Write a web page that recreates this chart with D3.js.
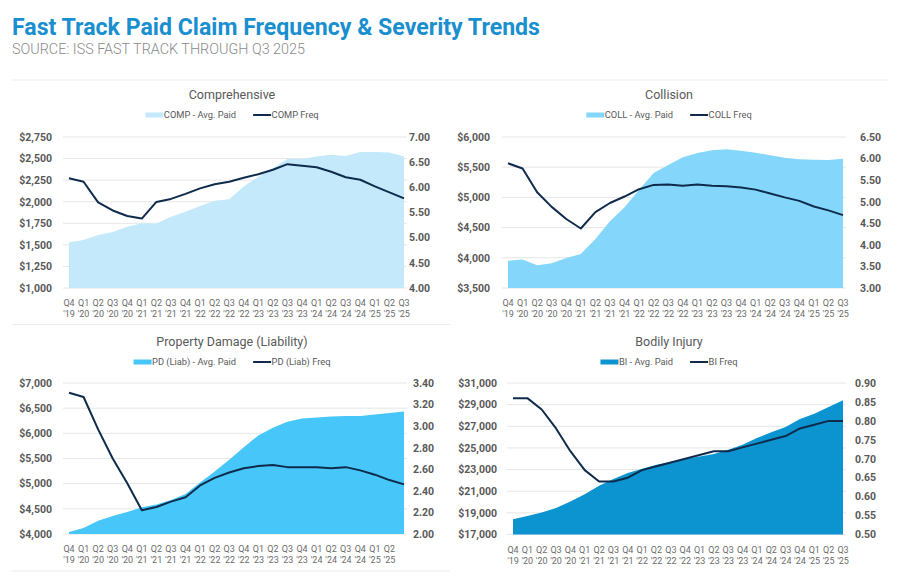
<!DOCTYPE html>
<html>
<head>
<meta charset="utf-8">
<script src="https://cdn.jsdelivr.net/npm/d3@7"></script>
<style>
  body { margin: 0; background: #fff; }
  svg { font-family: Roboto, "Noto Sans", sans-serif; }
</style>
</head>
<body>
<svg id="chart" width="905" height="581"></svg>
<script>
// quarter labels (PD chart leaves the last one blank)
var QUARTERS = ["Q4 '19","Q1 '20","Q2 '20","Q3 '20","Q4 '20","Q1 '21","Q2 '21","Q3 '21","Q4 '21",
    "Q1 '22","Q2 '22","Q3 '22","Q4 '22","Q1 '23","Q2 '23","Q3 '23","Q4 '23",
    "Q1 '24","Q2 '24","Q3 '24","Q4 '24","Q1 '25","Q2 '25","Q3 '25"];
var PD_QUARTERS = QUARTERS.slice(0, 23).concat([""]);

var COMP_PAID = [1530,1555,1613,1650,1710,1750,1748,1825,1885,1950,2010,2030,2175,2290,2390,2495,2495,2525,2545,2530,2575,2575,2570,2525];
var COMP_FREQ = [6.18,6.11,5.70,5.54,5.43,5.38,5.71,5.77,5.87,5.98,6.06,6.11,6.19,6.26,6.35,6.46,6.43,6.40,6.31,6.20,6.15,6.02,5.90,5.78];

var COLL_PAID = [3950,3970,3875,3908,3997,4063,4311,4604,4836,5128,5404,5536,5663,5735,5779,5796,5774,5741,5696,5658,5630,5625,5619,5641];
var COLL_FREQ = [5.89,5.77,5.22,4.88,4.60,4.38,4.76,4.97,5.12,5.29,5.39,5.40,5.37,5.40,5.37,5.36,5.33,5.28,5.19,5.10,5.02,4.89,4.80,4.69];

var PD_PAID = [4040,4120,4265,4358,4438,4531,4584,4677,4796,5022,5241,5473,5726,5958,6111,6230,6296,6316,6336,6343,6343,6376,6403,6436];
var PD_FREQ = [3.31,3.27,2.97,2.70,2.47,2.22,2.25,2.30,2.34,2.45,2.52,2.57,2.61,2.63,2.64,2.62,2.62,2.62,2.61,2.62,2.59,2.55,2.50,2.46];

var BI_PAID = [18400,18700,19035,19440,20060,20730,21500,22120,22675,23075,23445,23690,23970,24215,24430,24830,25300,25910,26440,26930,27670,28160,28780,29400];
var BI_FREQ = [0.86,0.86,0.83,0.78,0.72,0.67,0.64,0.64,0.65,0.67,0.68,0.69,0.70,0.71,0.72,0.72,0.73,0.74,0.75,0.76,0.78,0.79,0.80,0.80];

var COMP_LEFT_TICKS = [1000,1250,1500,1750,2000,2250,2500,2750];
var COMP_RIGHT_TICKS = [4.0,4.5,5.0,5.5,6.0,6.5,7.0];
var COLL_LEFT_TICKS = [3500,4000,4500,5000,5500,6000];
var COLL_RIGHT_TICKS = [3.0,3.5,4.0,4.5,5.0,5.5,6.0,6.5];
var PD_LEFT_TICKS = [4000,4500,5000,5500,6000,6500,7000];
var PD_RIGHT_TICKS = [2.0,2.2,2.4,2.6,2.8,3.0,3.2,3.4];
var BI_LEFT_TICKS = [17000,19000,21000,23000,25000,27000,29000,31000];
var BI_RIGHT_TICKS = [0.50,0.55,0.60,0.65,0.70,0.75,0.80,0.85,0.90];

var svg = d3.select("#chart");
var LINE_COLOR = "#0f2b4c";
var TEXT_GREY = "#595959";

svg.append("text")
    .attr("x", 12).attr("y", 35)
    .attr("font-size", 23).attr("font-weight", 700)
    .attr("fill", "#1a8fcf")
    .attr("textLength", 528).attr("lengthAdjust", "spacingAndGlyphs")
    .text("Fast Track Paid Claim Frequency & Severity Trends");

svg.append("text")
    .attr("x", 12).attr("y", 54)
    .attr("font-size", 14.5).attr("font-weight", 300)
    .attr("fill", "#8a8a8a")
    .attr("textLength", 293).attr("lengthAdjust", "spacingAndGlyphs")
    .text("SOURCE: ISS FAST TRACK THROUGH Q3 2025");

// thin separators
[[12, 888, 80], [12, 450, 324.5], [12, 450, 571]].forEach(function(s){
    svg.append("line")
        .attr("x1", s[0]).attr("x2", s[1]).attr("y1", s[2]).attr("y2", s[2])
        .attr("stroke", "#ececec").attr("stroke-width", 1.2);
});

var panels = [
    {title: "Comprehensive", cx: 232, top: 99, x0: 69, x1: 404, yTop: 137, yBot: 288,
     leftX: 52, rightX: 409, paid: COMP_PAID, freq: COMP_FREQ, lt: COMP_LEFT_TICKS, rt: COMP_RIGHT_TICKS,
     fill: "#c4e9fb", paidName: "COMP - Avg. Paid", freqName: "COMP Freq", labels: QUARTERS, fmtR: ".2f"},
    {title: "Collision", cx: 669, top: 99, x0: 508, x1: 843, yTop: 137, yBot: 288,
     leftX: 490, rightX: 860, paid: COLL_PAID, freq: COLL_FREQ, lt: COLL_LEFT_TICKS, rt: COLL_RIGHT_TICKS,
     fill: "#84d7fb", paidName: "COLL - Avg. Paid", freqName: "COLL Freq", labels: QUARTERS, fmtR: ".2f"},
    {title: "Property Damage (Liability)", cx: 232, top: 346, x0: 69, x1: 404, yTop: 383, yBot: 534,
     leftX: 52, rightX: 413, paid: PD_PAID, freq: PD_FREQ, lt: PD_LEFT_TICKS, rt: PD_RIGHT_TICKS,
     fill: "#47c6f9", paidName: "PD (Liab) - Avg. Paid", freqName: "PD (Liab) Freq", labels: PD_QUARTERS, fmtR: ".2f"},
    {title: "Bodily Injury", cx: 669, top: 346, x0: 513, x1: 843, yTop: 383, yBot: 534.5,
     leftX: 497, rightX: 855, paid: BI_PAID, freq: BI_FREQ, lt: BI_LEFT_TICKS, rt: BI_RIGHT_TICKS,
     fill: "#0b94d0", paidName: "BI - Avg. Paid", freqName: "BI Freq", labels: QUARTERS, fmtR: ".2f"}
];

panels.forEach(drawPanel);

function drawPanel(p){
    var g = svg.append("g");
    var idx = d3.range(p.paid.length);

    var x = d3.scalePoint().domain(idx).range([p.x0, p.x1]);
    var yL = d3.scaleLinear().domain(d3.extent(p.lt)).range([p.yBot, p.yTop]);
    var yR = d3.scaleLinear().domain(d3.extent(p.rt)).range([p.yBot, p.yTop]);

    // title
    g.append("text")
        .attr("x", p.cx).attr("y", p.top)
        .attr("text-anchor", "middle")
        .attr("font-size", 12.5).attr("fill", TEXT_GREY)
        .text(p.title);

    // legend, centred under title
    var leg = g.append("g");
    var ly = p.top + 19;
    leg.append("rect").attr("x", 0).attr("y", ly - 5.5).attr("width", 18).attr("height", 5).attr("fill", p.fill);
    var t1 = leg.append("text").attr("x", 18.5).attr("y", ly).attr("font-size", 9.3).attr("fill", TEXT_GREY).text(p.paidName);
    var w1 = t1.node().getComputedTextLength();
    var lx = 18.5 + w1 + 17;
    leg.append("line").attr("x1", lx).attr("x2", lx + 18).attr("y1", ly - 3).attr("y2", ly - 3)
        .attr("stroke", LINE_COLOR).attr("stroke-width", 2);
    var t2 = leg.append("text").attr("x", lx + 18.5).attr("y", ly).attr("font-size", 9.3).attr("fill", TEXT_GREY).text(p.freqName);
    var total = lx + 18.5 + t2.node().getComputedTextLength();
    leg.attr("transform", "translate(" + (p.cx - total / 2) + ",0)");

    // gridlines
    g.selectAll(".grid").data(p.lt).enter().append("line")
        .attr("x1", p.x0 - 6).attr("x2", p.x1 + 3)
        .attr("y1", function(d){ return yL(d); }).attr("y2", function(d){ return yL(d); })
        .attr("stroke", "#e6e6e6").attr("stroke-width", 1);

    // area (avg paid)
    var area = d3.area()
        .x(function(d, i){ return x(i); })
        .y0(p.yBot)
        .y1(function(d){ return yL(d); });
    g.append("path").datum(p.paid).attr("d", area).attr("fill", p.fill);

    // frequency line
    var line = d3.line()
        .x(function(d, i){ return x(i); })
        .y(function(d){ return yR(d); });
    g.append("path").datum(p.freq).attr("d", line)
        .attr("fill", "none").attr("stroke", LINE_COLOR)
        .attr("stroke-width", 2).attr("stroke-linejoin", "round");

    // left axis
    var fmtL = d3.format("$,");
    g.selectAll(".lt").data(p.lt).enter().append("text")
        .attr("x", p.leftX).attr("y", function(d){ return yL(d) + 3.8; })
        .attr("text-anchor", "end")
        .attr("font-size", 10.5).attr("font-weight", 700).attr("fill", TEXT_GREY)
        .text(function(d){ return fmtL(d); });

    // right axis
    var fmtR = d3.format(p.fmtR);
    g.selectAll(".rt").data(p.rt).enter().append("text")
        .attr("x", p.rightX).attr("y", function(d){ return yR(d) + 3.8; })
        .attr("text-anchor", "start")
        .attr("font-size", 10.5).attr("font-weight", 700).attr("fill", TEXT_GREY)
        .text(function(d){ return fmtR(d); });

    // category labels, two lines each
    var xl = g.selectAll(".xl").data(p.labels).enter().append("text")
        .attr("text-anchor", "middle")
        .attr("font-size", 9).attr("fill", "#6b6b6b");
    xl.append("tspan")
        .attr("x", function(d, i){ return x(i); })
        .attr("y", p.yBot + 18)
        .text(function(d){ return d.split(" ")[0] || ""; });
    xl.append("tspan")
        .attr("x", function(d, i){ return x(i); })
        .attr("y", p.yBot + 29)
        .text(function(d){ return d.split(" ")[1] || ""; });
}
</script>
</body>
</html>
